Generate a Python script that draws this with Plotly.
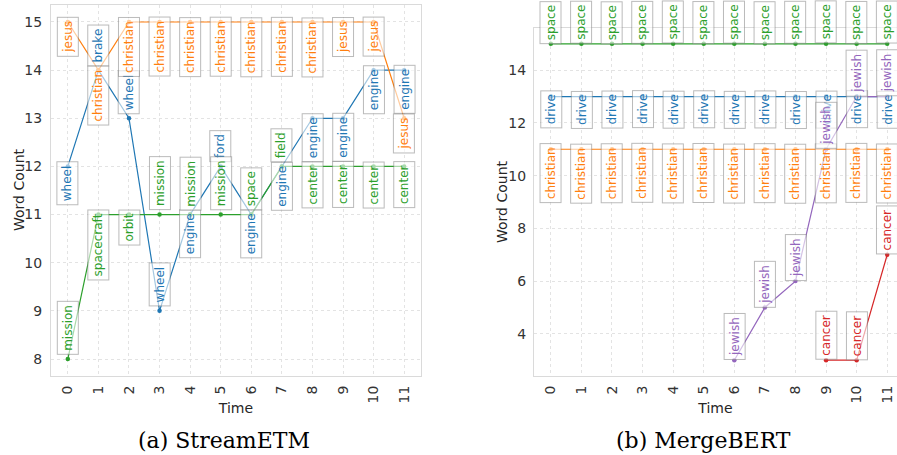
import plotly.graph_objects as go

# ---------------- data ----------------
times = [0, 1, 2, 3, 4, 5, 6, 7, 8, 9, 10, 11]

# (a) StreamETM
etm_blue_y = [12, 14, 13, 9, 11, 12, 11, 12, 13, 13, 14, 14]
etm_blue_words = ["wheel", "brake", "wheel", "wheel", "engine", "ford",
                  "engine", "engine", "engine", "engine", "engine", "engine"]
etm_orange_y = [15, 14, 15, 15, 15, 15, 15, 15, 15, 15, 15, 13]
etm_orange_words = ["jesus", "christian", "christian", "christian", "christian", "christian",
                    "christian", "christian", "christian", "jesus", "jesus", "jesus"]
etm_green_y = [8, 11, 11, 11, 11, 11, 11, 12, 12, 12, 12, 12]
etm_green_words = ["mission", "spacecraft", "orbit", "mission", "mission", "mission",
                   "space", "field", "center", "center", "center", "center"]

# (b) MergeBERT
mb_green_y = [15, 15, 15, 15, 15, 15, 15, 15, 15, 15, 15, 15]
mb_green_words = ["space"] * 12
mb_blue_y = [13, 13, 13, 13, 13, 13, 13, 13, 13, 13, 13, 13]
mb_blue_words = ["drive"] * 12
mb_orange_y = [11, 11, 11, 11, 11, 11, 11, 11, 11, 11, 11, 11]
mb_orange_words = ["christian"] * 12
mb_purple_t = [6, 7, 8, 9, 10, 11]
mb_purple_y = [3, 5, 6, 11, 13, 13]
mb_purple_words = ["jewish"] * 6
mb_red_t = [9, 10, 11]
mb_red_y = [3, 3, 7]
mb_red_words = ["cancer"] * 3

x_tick_labels = [str(t) for t in times]
etm_y_ticks = [8, 9, 10, 11, 12, 13, 14, 15]
mb_y_ticks = [4, 6, 8, 10, 12, 14]

# ---------------- styling ----------------
BLUE, ORANGE, GREEN, RED, PURPLE = "#1f77b4", "#ff7f0e", "#2ca02c", "#d62728", "#9467bd"
# label side: "a" = box above the point, "b" = box below the point
SIDE = {
    "etm_blue": "baaababbbbbb",
    "etm_orange": "bbbbbbbbbbbb",
    "etm_green": "abbaaaaabbbb",
    "mb_green": "aaaaaaaaaaaa",
    "mb_blue": "bbbbbbbbbbbb",
    "mb_orange": "bbbbbbbbbbbb",
    "mb_purple": "aaaaaa",
    "mb_red": "aaa",
}
SHIFT = {"x": {"a": 4, "b": 5}, "x2": {"a": 0, "b": 6}}

W, H = 897, 455

fig = go.Figure()
annotations = []


def add_series(xs, ys, words, color, key, xa):
    ya = "y" if xa == "x" else "y2"
    fig.add_trace(go.Scatter(
        x=xs, y=ys, mode="lines+markers", xaxis=xa, yaxis=ya,
        line=dict(color=color, width=1.2),
        marker=dict(color=color, size=4.5),
        showlegend=False, hoverinfo="skip"))
    for x, y, w, s in zip(xs, ys, words, SIDE[key]):
        annotations.append(dict(
            x=x, y=y, xref=xa, yref=ya, text=w, showarrow=False,
            textangle=-90, xanchor="center",
            yanchor="bottom" if s == "a" else "top",
            yshift=SHIFT[xa][s],
            font=dict(family="DejaVu Sans", size=12, color=color),
            bgcolor="rgba(255,255,255,0.6)",
            bordercolor="rgba(120,120,120,0.5)", borderwidth=1, borderpad=3))


add_series(times, etm_blue_y, etm_blue_words, BLUE, "etm_blue", "x")
add_series(times, etm_orange_y, etm_orange_words, ORANGE, "etm_orange", "x")
add_series(times, etm_green_y, etm_green_words, GREEN, "etm_green", "x")

add_series(times, mb_green_y, mb_green_words, GREEN, "mb_green", "x2")
add_series(times, mb_blue_y, mb_blue_words, BLUE, "mb_blue", "x2")
add_series(times, mb_orange_y, mb_orange_words, ORANGE, "mb_orange", "x2")
add_series(mb_purple_t, mb_purple_y, mb_purple_words, PURPLE, "mb_purple", "x2")
add_series(mb_red_t, mb_red_y, mb_red_words, RED, "mb_red", "x2")

title_font = dict(family="DejaVu Sans", size=14, color="#262626")

# y-axis titles (placed precisely)
annotations.append(dict(x=19 / W, y=1 - 190 / H, xref="paper", yref="paper",
                        text="Word Count", showarrow=False, textangle=-90,
                        xanchor="center", yanchor="middle", font=title_font))
annotations.append(dict(x=502 / W, y=1 - 202 / H, xref="paper", yref="paper",
                        text="Word Count", showarrow=False, textangle=-90,
                        xanchor="center", yanchor="middle", font=title_font))

# captions
annotations.append(dict(x=224 / W, y=1 - 440 / H, xref="paper", yref="paper",
                        text="(a) StreamETM", showarrow=False, xanchor="center", yanchor="middle",
                        font=dict(family="DejaVu Serif", size=22, color="black")))
annotations.append(dict(x=703 / W, y=1 - 440 / H, xref="paper", yref="paper",
                        text="(b) MergeBERT", showarrow=False, xanchor="center", yanchor="middle",
                        font=dict(family="DejaVu Serif", size=22, color="black")))

axis_common = dict(
    showgrid=True, gridcolor="#e3e3e3", griddash="dot", gridwidth=1,
    showline=True, linecolor="#dadada", linewidth=1,
    zeroline=False, ticks="",
    tickfont=dict(family="DejaVu Sans", size=14, color="#333333"),
)

fig.update_layout(
    width=W, height=H,
    margin=dict(l=0, r=0, t=0, b=0),
    paper_bgcolor="white", plot_bgcolor="white",
    font=dict(family="DejaVu Sans", color="#333333"),
    annotations=annotations,
    xaxis=dict(axis_common, domain=[51 / W, 421 / W], range=[-0.55, 11.55], anchor="y",
               mirror=True, tickmode="array", tickvals=times, ticktext=x_tick_labels,
               tickangle=-90, ticklabelstandoff=3,
               title=dict(text="Time", font=title_font, standoff=0)),
    yaxis=dict(axis_common, domain=[1 - 376 / H, 1 - 5 / H], range=[7.647, 15.353], anchor="x",
               mirror=True, tickmode="array", tickvals=etm_y_ticks, ticklabelstandoff=5),
    xaxis2=dict(axis_common, domain=[534 / W, 1.0], range=[-0.55, 11.32], anchor="y2",
                mirror=True, tickmode="array", tickvals=times, ticktext=x_tick_labels,
                tickangle=-90, ticklabelstandoff=3,
                title=dict(text="Time", font=title_font, standoff=0)),
    yaxis2=dict(axis_common, domain=[1 - 376 / H, 1 - 28 / H], range=[2.4, 15.6], anchor="x2",
                mirror=False, tickmode="array", tickvals=mb_y_ticks, ticklabelstandoff=4),
)

fig.write_html(
    "out.html",
    config={"displayModeBar": False},
    post_script="document.body.style.margin='0';document.body.style.overflow='hidden';",
)
